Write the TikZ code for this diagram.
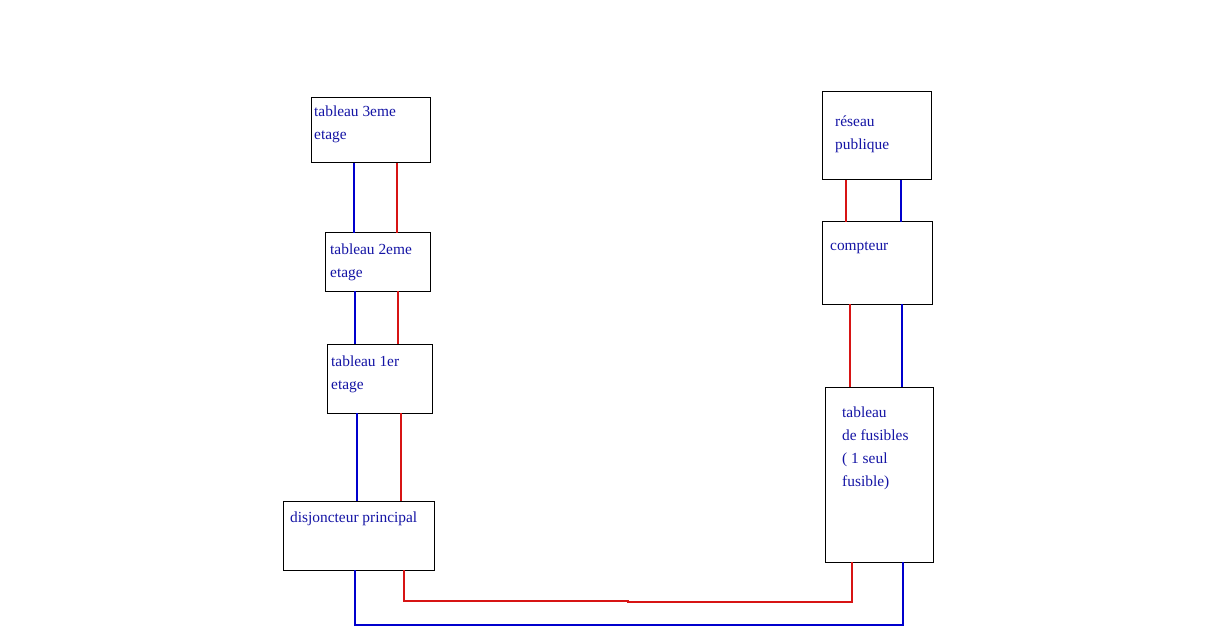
\documentclass[tikz,border=0pt]{standalone}
\usepackage{fontspec}
\setmainfont{Liberation Serif}
\definecolor{txtblue}{RGB}{20,20,165}
\definecolor{wblue}{RGB}{0,0,205}
\definecolor{wred}{RGB}{215,20,20}
\begin{document}
\begin{tikzpicture}[x=1pt,y=-1pt,
  box/.style={draw=black,line width=1pt,anchor=north west,inner sep=0pt,outer sep=0pt},
  lbl/.style={anchor=base west,inner sep=0pt,align=left,text=txtblue,font=\fontsize{15.4}{23}\selectfont},
  bw/.style={draw=wblue,line width=2.2pt},
  rw/.style={draw=wred,line width=2.2pt}]
\useasboundingbox[fill=white] (0,0) rectangle (1216,639);
% boxes
\node[box,minimum width=119pt,minimum height=65pt] (b3) at (311,98) {};
\node[box,minimum width=105pt,minimum height=58pt] (b2) at (325,233) {};
\node[box,minimum width=105pt,minimum height=69pt] (b1) at (327,344) {};
\node[box,minimum width=151pt,minimum height=69pt] (dj) at (283,501) {};
\node[box,minimum width=109pt,minimum height=88pt] (rp) at (822,92) {};
\node[box,minimum width=110pt,minimum height=82pt] (ct) at (822,222) {};
\node[box,minimum width=108pt,minimum height=175pt] (tf) at (825,387) {};
% labels (anchored at the baseline of the last line)
\node[lbl] (l3) at (314,140) {tableau 3eme\\etage};
\node[lbl] (l2) at (330,277) {tableau 2eme\\etage};
\node[lbl] (l1) at (331,389) {tableau 1er\\etage};
\node[lbl] (ldj) at (290,522) {disjoncteur principal};
\node[lbl] (lrp) at (835,150) {réseau\\publique};
\node[lbl] (lct) at (830,251) {compteur};
\node[lbl] (ltf) at (842,486) {tableau\\de fusibles\\( 1 seul\\fusible)};
% left wires
\draw[bw] (b3.south -| 354,0) -- (b2.north -| 354,0);
\draw[rw] (b3.south -| 397,0) -- (b2.north -| 397,0);
\draw[bw] (b2.south -| 355,0) -- (b1.north -| 355,0);
\draw[rw] (b2.south -| 398,0) -- (b1.north -| 398,0);
\draw[bw] (b1.south -| 357,0) -- (dj.north -| 357,0);
\draw[rw] (b1.south -| 401,0) -- (dj.north -| 401,0);
% right wires
\draw[rw] (rp.south -| 846,0) -- (ct.north -| 846,0);
\draw[bw] (rp.south -| 901,0) -- (ct.north -| 901,0);
\draw[rw] (ct.south -| 850,0) -- (tf.north -| 850,0);
\draw[bw] (ct.south -| 902,0) -- (tf.north -| 902,0);
% bottom wires
\coordinate (rmid) at (628,601);
\draw[rw] (dj.south -| 404,0) |- (rmid) -- ++(0,1) -| (tf.south -| 852,0);
\draw[bw] (dj.south -| 355,0) -- (355,625) -| (tf.south -| 903,0);
\end{tikzpicture}
\end{document}
